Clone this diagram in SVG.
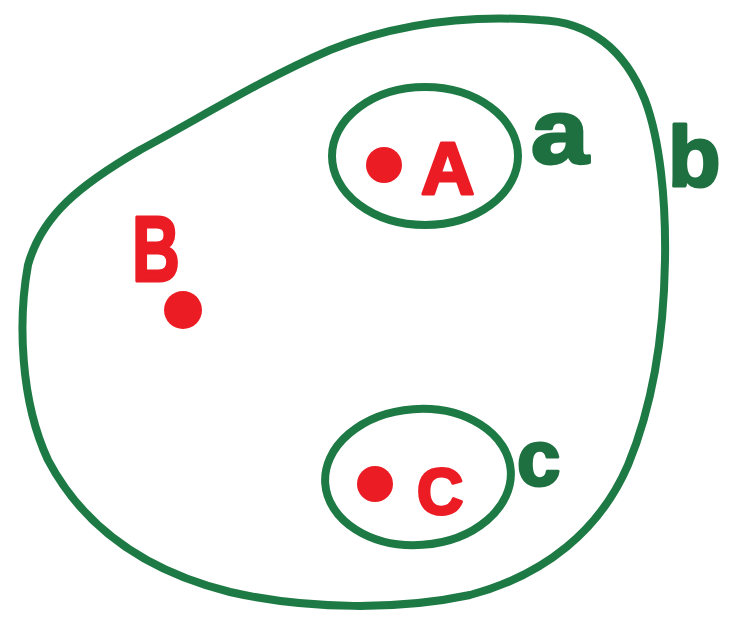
<svg xmlns="http://www.w3.org/2000/svg" width="743" height="621" viewBox="0 0 743 621">
<style>
.set{fill:none;stroke:#1e7a44;stroke-width:8;stroke-linecap:round;stroke-linejoin:round}
.pt{fill:#ec1c24}
.lp{fill:#ec1c24;font-family:"Liberation Sans",Arial,sans-serif;font-weight:bold;stroke:#ec1c24;stroke-width:3;stroke-linejoin:round}
.ls{fill:#1e7040;font-family:"Liberation Sans",Arial,sans-serif;font-weight:bold;stroke:#1e7040;stroke-width:3;stroke-linejoin:round}
</style>
<rect width="743" height="621" fill="#ffffff"/>
<g id="set-b">
<path class="set" d="M540,20 C590,22 625,50 645,100 C660,140 666,200 665,260 C664,330 655,400 628,465 C600,530 545,575 470,595 C400,610 310,610 230,592 C150,572 85,530 48,460 C20,400 18,320 28,265 C42,215 80,185 140,150 C200,118 260,80 330,50 C400,22 470,15 540,20 Z"/>
<text class="ls" x="668" y="186" font-size="86">b</text>
</g>
<g id="set-a">
<ellipse class="set" cx="425" cy="156" rx="93" ry="69"/>
<text class="ls" transform="translate(531 163) scale(1.15 1)" x="0" y="0" font-size="90">a</text>
</g>
<g id="set-c">
<ellipse class="set" cx="418" cy="477" rx="93" ry="68" transform="rotate(-4 418 477)"/>
<text class="ls" x="517" y="485" font-size="78">c</text>
</g>
<g id="point-A">
<circle class="pt" cx="384" cy="165" r="18"/>
<text class="lp" x="421" y="194" font-size="74">A</text>
</g>
<g id="point-B">
<circle class="pt" cx="183" cy="310" r="19"/>
<text class="lp" transform="translate(132 281) scale(0.72 1)" x="0" y="0" font-size="92">B</text>
</g>
<g id="point-C">
<circle class="pt" cx="375" cy="484" r="18"/>
<text class="lp" x="417" y="514" font-size="64">C</text>
</g>
<g id="connectors"></g>
</svg>
